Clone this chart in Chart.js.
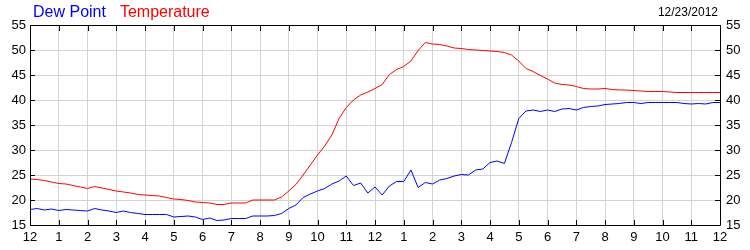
<!DOCTYPE html>
<html lang="en">
<head>
    <meta charset="UTF-8">
    <title>Dew Point / Temperature</title>
    <script src="https://cdn.jsdelivr.net/npm/chart.js"></script>
    <style>
        body { margin: 0; background: #fff; }
        #wrap { position: relative; width: 750px; height: 250px; font-family: "Liberation Sans", Arial, sans-serif; }
        #legend { position: absolute; left: 33px; top: 3px; font-size: 16px; white-space: nowrap; }
        #legend span { margin-right: 14px; }
        #date { position: absolute; right: 32px; top: 5px; font-size: 12px; color: #000; }
    </style>
</head>
<body>
<div id="wrap">
    <canvas id="myChart" width="750" height="250"></canvas>
    <div id="legend"><span style="color:#0000ff">Dew Point</span><span style="color:#ff0000">Temperature</span></div>
    <div id="date">12/23/2012</div>
</div>
<script>
// Hour labels along the bottom (midnight to midnight)
const hourLabels = ["12","1","2","3","4","5","6","7","8","9","10","11","12","1","2","3","4","5","6","7","8","9","10","11","12"]

// Readings every 15 minutes, starting at midnight
const stepHours = 0.25

const temperature = [
    24.2, 24.1, 23.9, 23.6, 23.3, 23.2, 22.9, 22.6,
    22.3, 22.7, 22.4, 22.1, 21.8, 21.6, 21.4, 21.1,
    21.0, 20.9, 20.8, 20.5, 20.2, 20.1, 19.9, 19.6,
    19.5, 19.4, 19.1, 19.1, 19.4, 19.4, 19.4, 20.0,
    20.0, 20.0, 20.0, 20.6, 21.8, 23.1, 25.0, 27.0,
    29.0, 30.8, 33.0, 36.3, 38.5, 40.0, 41.0, 41.6,
    42.3, 43.1, 45.1, 46.1, 46.7, 47.8, 49.9, 51.5,
    51.2, 51.1, 50.8, 50.4, 50.3, 50.1, 50.0, 49.9,
    49.8, 49.7, 49.5, 49.0, 47.8, 46.3, 45.7, 44.9,
    44.2, 43.4, 43.1, 43.0, 42.7, 42.3, 42.2, 42.2,
    42.3, 42.1, 42.0, 42.0, 41.9, 41.8, 41.7, 41.7,
    41.7, 41.6, 41.5, 41.5, 41.5, 41.5, 41.5, 41.5,
    41.5
]

const dewPoint = [
    18.1, 18.3, 18.0, 18.2, 17.9, 18.1, 18.0, 17.9,
    17.8, 18.3, 18.0, 17.8, 17.5, 17.8, 17.5, 17.3,
    17.1, 17.1, 17.1, 17.1, 16.6, 16.7, 16.8, 16.6,
    16.1, 16.4, 15.9, 16.0, 16.3, 16.3, 16.3, 16.8,
    16.8, 16.8, 16.9, 17.3, 18.3, 19.0, 20.5, 21.2,
    21.8, 22.3, 23.2, 23.8, 24.8, 22.9, 23.4, 21.4,
    22.6, 21.0, 22.8, 23.7, 23.7, 26.0, 22.5, 23.5,
    23.2, 24.0, 24.3, 24.8, 25.1, 25.0, 26.0, 26.2,
    27.5, 27.8, 27.3, 31.5, 36.3, 37.8, 38.0, 37.7,
    38.0, 37.7, 38.2, 38.3, 38.0, 38.5, 38.7, 38.8,
    39.1, 39.2, 39.3, 39.5, 39.5, 39.3, 39.5, 39.5,
    39.5, 39.5, 39.5, 39.3, 39.2, 39.3, 39.2, 39.5,
    39.5
]

// Turn a series into {x, y} points on the hour axis
function toPoints(values) {
    return values.map((v, i) => ({ x: i * stepHours, y: v }))
}

// Frame around the plot plus short inward tick marks on all four sides
const framePlugin = {
    id: "frame",
    afterDatasetsDraw(chart) {
        const { ctx, chartArea: a, scales } = chart
        ctx.save()
        ctx.strokeStyle = "#000"
        ctx.lineWidth = 1
        ctx.beginPath()
        ctx.rect(Math.round(a.left) + 0.5, Math.round(a.top) + 0.5, Math.round(a.right - a.left), Math.round(a.bottom - a.top))
        scales.x.ticks.forEach(t => {
            const px = Math.round(scales.x.getPixelForValue(t.value)) + 0.5
            ctx.moveTo(px, a.bottom)
            ctx.lineTo(px, a.bottom - 5)
            ctx.moveTo(px, a.top)
            ctx.lineTo(px, a.top + 6)
        })
        scales.y.ticks.forEach(t => {
            const py = Math.round(scales.y.getPixelForValue(t.value)) + 0.5
            ctx.moveTo(a.left, py)
            ctx.lineTo(a.left + 5, py)
            ctx.moveTo(a.right, py)
            ctx.lineTo(a.right - 5, py)
        })
        ctx.stroke()
        ctx.restore()
    }
}

const tickFont = { family: "Liberation Sans", size: 13 }

new Chart(document.getElementById("myChart"), {
    type: "line",
    data: {
        datasets: [
            {
                label: "Temperature",
                data: toPoints(temperature),
                borderColor: "#ff0000",
                borderWidth: 1,
                pointRadius: 0,
                tension: 0
            },
            {
                label: "Dew Point",
                data: toPoints(dewPoint),
                borderColor: "#0000ff",
                borderWidth: 1,
                pointRadius: 0,
                tension: 0
            }
        ]
    },
    options: {
        responsive: false,
        animation: false,
        devicePixelRatio: 1,
        layout: { padding: { top: 25, left: 0, right: 0, bottom: 0 } },
        plugins: {
            legend: { display: false },
            tooltip: { enabled: false }
        },
        scales: {
            x: {
                type: "linear",
                min: 0,
                max: 24,
                border: { display: false },
                grid: { color: "#d3d3d3", drawTicks: false },
                ticks: {
                    stepSize: 1,
                    autoSkip: false,
                    maxRotation: 0,
                    padding: 5,
                    color: "#000",
                    font: tickFont,
                    callback: (v) => hourLabels[v]
                },
                afterFit: (s) => { s.height = 25 }
            },
            y: {
                position: "left",
                min: 15,
                max: 55,
                border: { display: false },
                grid: { color: "#d3d3d3", drawTicks: false },
                ticks: { stepSize: 5, padding: 4, color: "#000", font: tickFont },
                afterFit: (s) => { s.width = 30 }
            },
            y2: {
                position: "right",
                min: 15,
                max: 55,
                border: { display: false },
                grid: { display: false, drawTicks: false },
                ticks: { stepSize: 5, padding: 6, color: "#000", font: tickFont },
                afterFit: (s) => { s.width = 30 }
            }
        }
    },
    plugins: [framePlugin]
})
</script>
</body>
</html>
